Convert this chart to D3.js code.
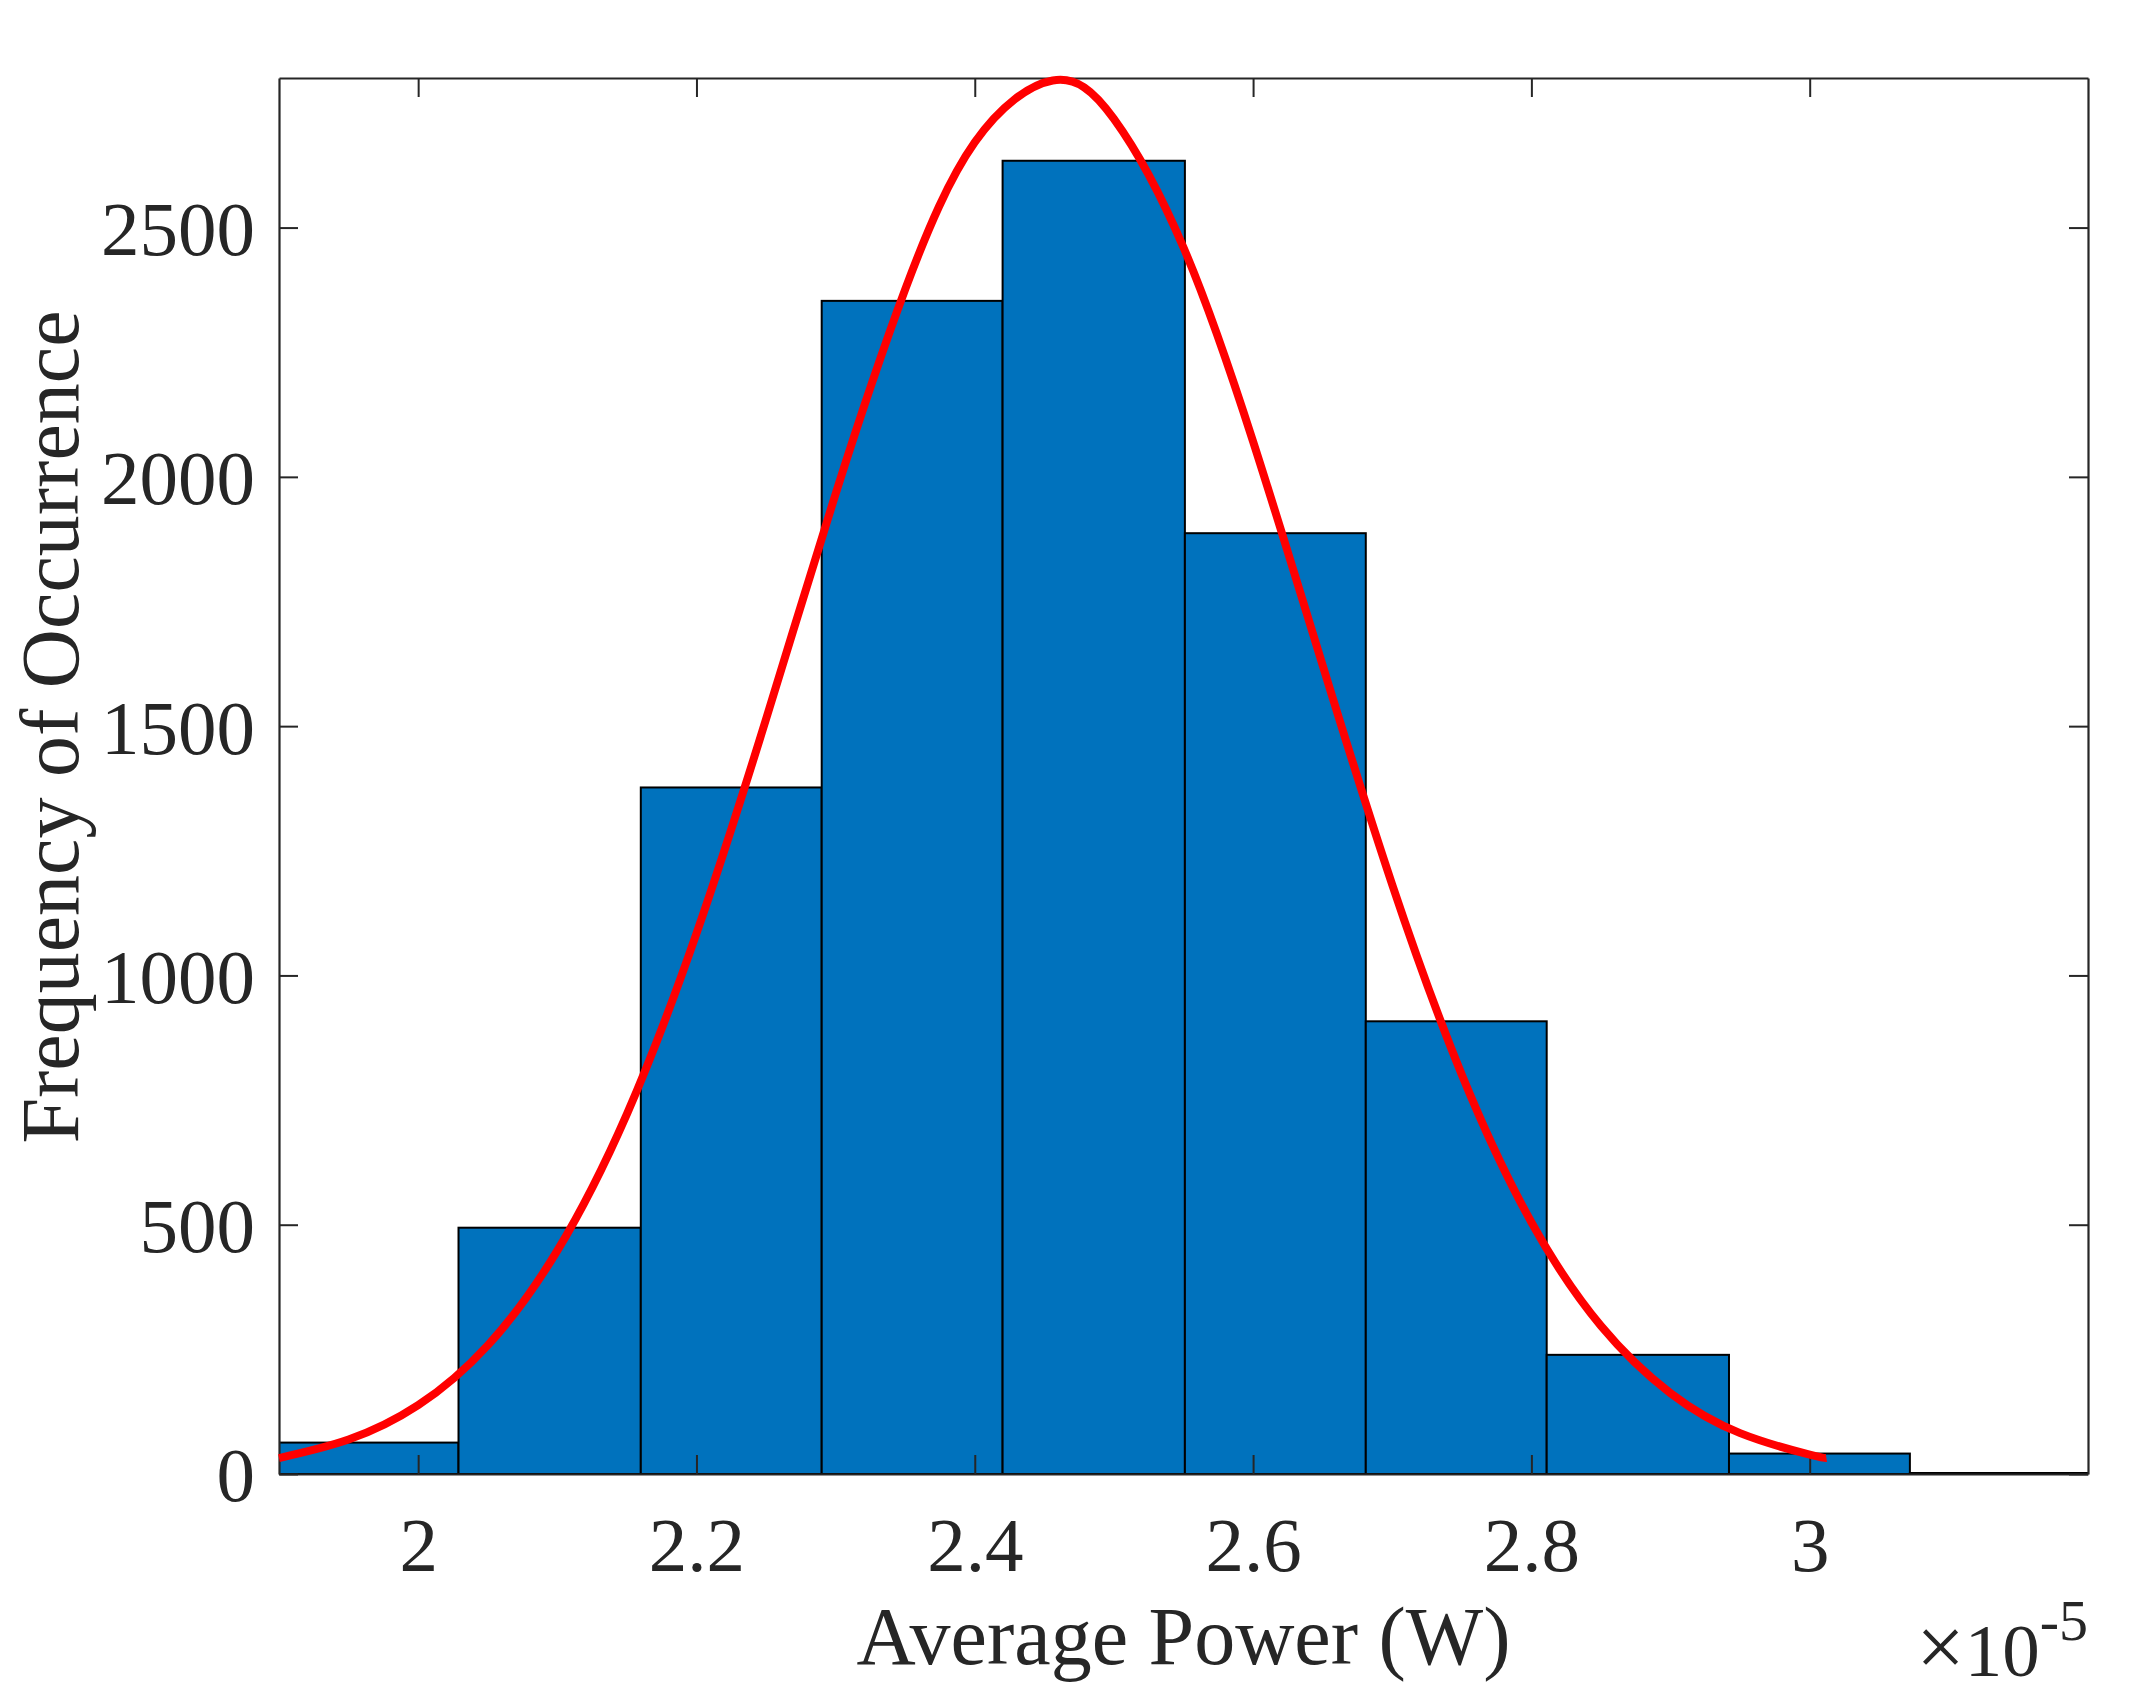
<!DOCTYPE html>
<html>
<head>
<meta charset="utf-8">
<script src="https://cdn.jsdelivr.net/npm/d3@7/dist/d3.min.js"></script>
<style>
  body { margin: 0; background: #fff; }
  svg text { font-family: "Liberation Serif", "Times New Roman", serif; fill: #262626; }
</style>
</head>
<body>
<div id="chart"></div>
<script>
// histogram bins, x in units of 1e-5 W
const binEdges = [1.899, 2.029, 2.160, 2.290, 2.420, 2.551, 2.681, 2.811, 2.942, 3.072, 3.202];
const binCounts = [63, 494, 1377, 2353, 2634, 1887, 908, 239, 41, 2];

// red fit curve
const fitX = [1.90, 1.95, 2.00, 2.05, 2.10, 2.15, 2.20, 2.25, 2.30, 2.35, 2.40, 2.456,
              2.50, 2.55, 2.60, 2.65, 2.70, 2.75, 2.80, 2.85, 2.90, 2.95, 3.00, 3.012];
const fitY = [32, 69, 138, 258, 448, 722, 1084, 1514, 1966, 2376, 2671, 2795,
              2718, 2460, 2071, 1622, 1182, 801, 505, 297, 162, 82, 39, 32];

const xTicks = [2, 2.2, 2.4, 2.6, 2.8, 3];
const yTicks = [0, 500, 1000, 1500, 2000, 2500];
const xExponent = "-5";

const xLabel = "Average Power (W)";
const yLabel = "Frequency of Occurrence";

// layout
const W = 2152, H = 1699;
const margin = {left: 279, top: 78, right: 64, bottom: 225};
const w = W - margin.left - margin.right,
      h = H - margin.top - margin.bottom;
const tickLen = 19;
const axisColor = "#262626";

const svg = d3.select("#chart").append("svg")
  .attr("width", W)
  .attr("height", H)
  .style("background", "#fff");

const g = svg.append("g")
  .attr("transform", `translate(${margin.left},${margin.top})`);

const x = d3.scaleLinear().domain([1.9, 3.2]).range([0, w]);
const y = d3.scaleLinear().domain([0, 2800]).range([h, 0]);

g.append("clipPath").attr("id", "plot-clip")
  .append("rect").attr("width", w).attr("height", h);

// bars
const bins = binCounts.map((c, i) => ({x0: binEdges[i], x1: binEdges[i + 1], count: c}));
g.append("g")
  .attr("clip-path", "url(#plot-clip)")
  .selectAll("rect")
  .data(bins)
  .join("rect")
    .attr("x", d => x(d.x0))
    .attr("y", d => y(d.count))
    .attr("width", d => x(d.x1) - x(d.x0))
    .attr("height", d => y(0) - y(d.count))
    .attr("fill", "#0072BD")
    .attr("stroke", "#000")
    .attr("stroke-width", 2);

// axes, ticks pointing inward on all four sides
function styleAxis(sel) {
  sel.selectAll("path.domain").attr("stroke", axisColor).attr("stroke-width", 2.2);
  sel.selectAll(".tick line").attr("stroke", axisColor).attr("stroke-width", 2);
  sel.selectAll(".tick text")
    .attr("font-size", 77)
    .attr("font-family", "Liberation Serif, Times New Roman, serif")
    .attr("fill", axisColor);
}

g.append("g")
  .attr("transform", `translate(0,${h})`)
  .call(d3.axisBottom(x).tickValues(xTicks).tickFormat(d3.format("~g"))
    .tickSize(-tickLen).tickSizeOuter(0).tickPadding(42))
  .call(styleAxis);

g.append("g")
  .call(d3.axisTop(x).tickValues(xTicks).tickFormat("")
    .tickSize(-tickLen).tickSizeOuter(0))
  .call(styleAxis);

g.append("g")
  .call(d3.axisLeft(y).tickValues(yTicks).tickFormat(d3.format("d"))
    .tickSize(-tickLen).tickSizeOuter(0).tickPadding(24))
  .call(styleAxis)
  .selectAll(".tick text").attr("dy", "0.35em");

g.append("g")
  .attr("transform", `translate(${w},0)`)
  .call(d3.axisRight(y).tickValues(yTicks).tickFormat("")
    .tickSize(-tickLen).tickSizeOuter(0))
  .call(styleAxis);

// fitted curve on top
const line = d3.line()
  .x((d, i) => x(fitX[i]))
  .y(d => y(d))
  .curve(d3.curveNatural);

g.append("path")
  .datum(fitY)
  .attr("d", line)
  .attr("fill", "none")
  .attr("stroke", "#FF0000")
  .attr("stroke-width", 8);

// labels
svg.append("text")
  .attr("x", margin.left + w / 2)
  .attr("y", 1664)
  .attr("text-anchor", "middle")
  .attr("font-size", 82)
  .text(xLabel);

svg.append("text")
  .attr("transform", `translate(78,727) rotate(-90)`)
  .attr("text-anchor", "middle")
  .attr("font-size", 82)
  .text(yLabel);

// x exponent, "×10^-5"
const expo = svg.append("text")
  .attr("x", margin.left + w)
  .attr("y", 1676)
  .attr("text-anchor", "end")
  .attr("font-size", 75);
expo.append("tspan").attr("font-size", 86).text("\u00D7");
expo.append("tspan").text("10");
expo.append("tspan")
  .attr("dy", -36)
  .attr("font-size", 58)
  .text(xExponent);
</script>
</body>
</html>
